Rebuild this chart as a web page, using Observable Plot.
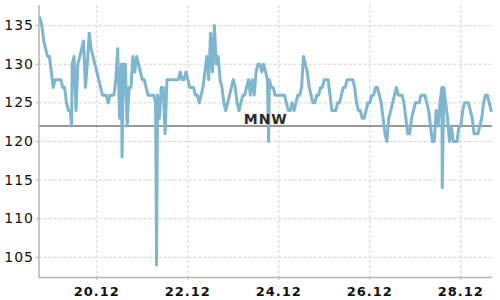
<!DOCTYPE html>
<html><head><meta charset="utf-8">
<script src="https://cdn.jsdelivr.net/npm/d3@7"></script>
<script src="https://cdn.jsdelivr.net/npm/@observablehq/plot@0.6"></script>
<style>
body{margin:0;background:#fff;}
#chart svg g[aria-label="y-axis tick label"] text,
#chart svg g[aria-label="x-axis tick label"] text,
#chart svg g[aria-label="text"] text{letter-spacing:1px;}
</style>
</head><body><div id="chart"></div>
<script>
// hourly readings, first one at 18.12 18:00 (hours counted from 18.12 00:00)
const startHour = 18;
const hourlyValues = [
  136,135,133,132,131,131,129,127,128,128,
  128,128,127,127,125,124,124,130,131,124,
  130,131,132,133,127,130,134,132,131,130,
  129,128,127,126,126,126,125,126,126,126,
  128,132,123,130,130,130,122,127,127,131,
  129,131,130,129,128,128,127,126,126,126,
  126,125,126,123,127,127,121,128,128,128,
  128,128,128,128,129,128,128,129,128,127,
  127,127,126,126,125,126,127,129,131,128,
  134,129,135,130,131,128,127,125,124,125,
  126,127,128,127,125,124,125,126,126,127,
  128,126,128,126,129,130,130,129,130,129,
  128,128,127,127,126,126,126,126,126,126,
  125,124,124,125,124,125,126,126,127,131,
  130,129,127,126,125,125,126,126,127,127,
  128,128,128,126,124,124,124,125,125,126,
  127,127,128,128,128,128,127,125,124,124,
  123,123,124,125,125,126,126,127,127,126,
  125,123,121,120,123,124,125,126,127,126,
  126,126,125,123,121,121,123,124,125,125,
  125,126,126,126,125,124,122,120,120,124,
  122,125,127,127,125,123,120,122,120,120,
  120,122,122,124,125,125,125,124,123,121,
  121,121,122,123,125,126,126,125,124
];
// short dips between hourly readings
const spikeHours = [34.7, 61.3, 79.5, 138.6, 230.2];
const spikeValues = [122, 118, 104, 120, 114];

const yTicks = [105, 110, 115, 120, 125, 130, 135];
const xTickDays = [20, 22, 24, 26, 28];
const xTickLabels = ["20.12", "22.12", "24.12", "26.12", "28.12"];
const mnwValue = 122;
const mnwLabel = "MNW";

const base = Date.UTC(2023, 11, 18);
const H = 3600e3;
const data = hourlyValues.map((v, i) => ({date: new Date(base + (startHour + i) * H), value: v}))
  .concat(spikeHours.map((h, i) => ({date: new Date(base + h * H), value: spikeValues[i]})))
  .sort((a, b) => a.date - b.date);

const x0 = new Date(base + 17.5 * H);
const x1 = new Date(base + 256.7 * H);
const xTicks = xTickDays.map(d => new Date(Date.UTC(2023, 11, d)));
const labelOf = new Map(xTicks.map((d, i) => [+d, xTickLabels[i]]));
const yMin = 102.4, yMax = 137.6;

const plot = Plot.plot({
  width: 500,
  height: 300,
  marginLeft: 38.5,
  marginRight: 8,
  marginTop: 5,
  marginBottom: 23,
  x: {type: "utc", domain: [x0, x1]},
  y: {domain: [yMin, yMax]},
  style: {fontFamily: "DejaVu Sans", color: "#111", background: "#fff", overflow: "visible"},
  marks: [
    Plot.gridY(yTicks, {stroke: "#d2d2d2", strokeOpacity: 1, strokeDasharray: "3,2"}),
    Plot.gridX(xTicks, {stroke: "#d2d2d2", strokeOpacity: 1, strokeDasharray: "3,2"}),
    Plot.ruleY([mnwValue], {stroke: "#777", strokeWidth: 1.5}),
    Plot.line(data, {x: "date", y: "value", stroke: "#7db6ce", strokeWidth: 3}),
    Plot.text([mnwLabel], {x: new Date((+x0 + +x1) / 2), y: mnwValue, text: d => d, lineAnchor: "bottom", dy: -2, fontSize: 14, fontWeight: "bold", fill: "#2a2a2a"}),
    Plot.ruleX([x0], {stroke: "#b5b5b5", strokeWidth: 1.5}),
    Plot.ruleY([yMin], {stroke: "#b5b5b5", strokeWidth: 1.5}),
    Plot.axisY(yTicks, {tickSize: 3, tickPadding: 2, fontSize: 14, stroke: "#b5b5b5", fill: "#111", label: null}),
    Plot.axisX(xTicks, {tickSize: 3, tickPadding: 6, fontSize: 13, fontWeight: "bold", stroke: "#b5b5b5", fill: "#111", label: null, tickFormat: d => labelOf.get(+d)})
  ]
});
document.getElementById("chart").appendChild(plot);
</script>
</body></html>
